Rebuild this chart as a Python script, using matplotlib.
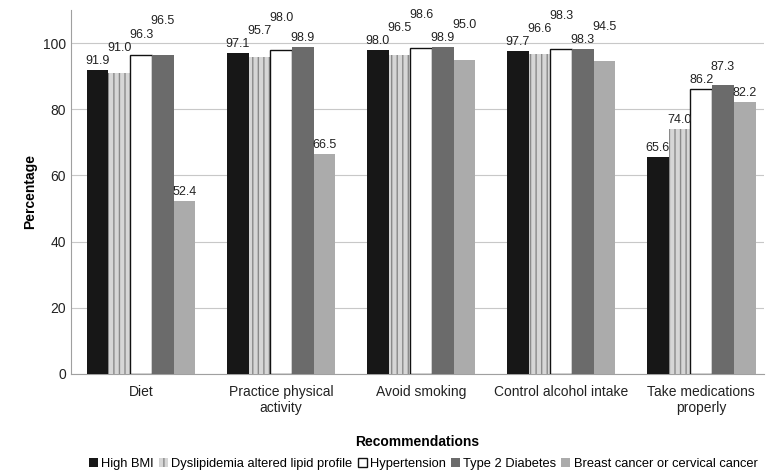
import matplotlib.pyplot as plt
import numpy as np

plt.rcParams['font.family'] = ['Liberation Sans', 'DejaVu Sans']

# categories on the x axis
recommendations = ['Diet', 'Practice physical\nactivity', 'Avoid smoking',
                   'Control alcohol intake', 'Take medications\nproperly']

# one list of percentages per condition
high_bmi = [91.9, 97.1, 98.0, 97.7, 65.6]
dyslipidemia = [91.0, 95.7, 96.5, 96.6, 74.0]
hypertension = [96.3, 98.0, 98.6, 98.3, 86.2]
diabetes = [96.5, 98.9, 98.9, 98.3, 87.3]
cancer = [52.4, 66.5, 95.0, 94.5, 82.2]

series_names = ['High BMI', 'Dyslipidemia altered lipid profile', 'Hypertension',
                'Type 2 Diabetes', 'Breast cancer or cervical cancer']

fig, ax = plt.subplots(figsize=(7.72, 4.74), dpi=100)
fig.subplots_adjust(left=0.092, right=0.99, top=0.979, bottom=0.211)

x = np.arange(len(recommendations))
width = 0.155
styles = [
    dict(color='#171717'),
    dict(facecolor='#d6d6d6', edgecolor='#8a8a8a', hatch='|||', linewidth=0),
    dict(facecolor='white', edgecolor='#111111', linewidth=1),
    dict(color='#6b6b6b'),
    dict(color='#ababab'),
]
all_series = [high_bmi, dyslipidemia, hypertension, diabetes, cancer]

# label heights: lift a label when it would collide with its left neighbour
label_y = np.zeros((len(all_series), len(recommendations)))
for j in range(len(recommendations)):
    for i, vals in enumerate(all_series):
        y = vals[j] + 0.8
        if i > 0 and abs(y - label_y[i - 1, j]) < 4:
            y = label_y[i - 1, j] + 4
        label_y[i, j] = y

for i, (vals, name, st) in enumerate(zip(all_series, series_names, styles)):
    pos = x + (i - 2) * width
    bars = ax.bar(pos, vals, width, label=name, zorder=3, **st)
    for j, b in enumerate(bars):
        ax.text(b.get_x() + b.get_width() / 2, label_y[i, j], f'{vals[j]:.1f}',
                ha='center', va='bottom', fontsize=9, color='#222222', zorder=4)

ax.set_xlim(-0.5, 4.45)
ax.set_ylim(0, 110)
ax.set_yticks(range(0, 101, 20))
ax.set_xticks(x)
ax.set_xticklabels(recommendations, fontsize=10)
ax.tick_params(axis='both', length=0, labelsize=10, colors='#222222')
ax.tick_params(axis='x', pad=8)

ax.yaxis.grid(True, color='#c8c8c8', linewidth=0.8, zorder=0)
ax.set_axisbelow(True)
for side in ['top', 'right']:
    ax.spines[side].set_visible(False)
for side in ['left', 'bottom']:
    ax.spines[side].set_color('#a0a0a0')

ax.set_ylabel('Percentage', fontsize=10, fontweight='bold')
ax.set_xlabel('Recommendations', fontsize=10, fontweight='bold', labelpad=14)

ax.legend(loc='upper center', bbox_to_anchor=(0.508, -0.21), ncol=5, frameon=False,
          fontsize=9.3, handlelength=0.7, handleheight=0.7, handletextpad=0.25,
          columnspacing=0.4, borderpad=0.1)

plt.savefig('out.png')
